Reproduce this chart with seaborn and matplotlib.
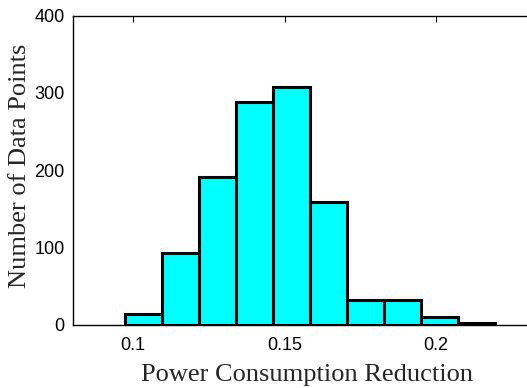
import matplotlib
matplotlib.use("Agg")
import matplotlib.pyplot as plt
import seaborn as sns
import numpy as np
import pandas as pd

# Data
bin_centers = [0.1035, 0.1157, 0.1279, 0.1401, 0.1523, 0.1645, 0.1767, 0.1889, 0.2011, 0.2133]
counts = [14, 92, 191, 288, 307, 158, 32, 32, 10, 2]
bin_width = 0.0122
x_ticks = [0.1, 0.15, 0.2]
x_tick_labels = ["0.1", "0.15", "0.2"]
y_ticks = [0, 100, 200, 300, 400]

sns.set_style("white")
plt.rcParams['font.family'] = ['Liberation Sans', 'DejaVu Sans']

df = pd.DataFrame({"x": bin_centers, "w": counts})
lo = bin_centers[0] - bin_width / 2
hi = bin_centers[-1] + bin_width / 2

fig = plt.figure(figsize=(5.27, 3.88), dpi=100)
ax = fig.add_axes([73 / 527, 1 - 324.5 / 388, 1 - 73 / 527, (324.5 - 15.5) / 388])

sns.histplot(data=df, x="x", weights="w", binwidth=bin_width, binrange=(lo, hi), ax=ax,
             color="#00ffff", alpha=1, edgecolor="black", linewidth=2.2)

ax.set_xlim(0.0802, 0.2300)
ax.set_ylim(0, 400)
ax.set_xticks(x_ticks)
ax.set_xticklabels(x_tick_labels)
ax.set_yticks(y_ticks)
ax.tick_params(axis="both", direction="in", length=4, width=0.8, labelsize=13,
               colors="black", top=True, right=False, pad=6)
ax.tick_params(axis="x", pad=9)
for s in ["left", "bottom", "top"]:
    ax.spines[s].set_color("black")
    ax.spines[s].set_linewidth(1.0)
ax.spines["right"].set_visible(False)

ax.set_xlabel("Power Consumption Reduction", family=["Liberation Serif"], fontsize=19)
ax.xaxis.label.set_va("baseline")
ax.xaxis.set_label_coords(0.515, -0.1828)
ax.set_ylabel("Number of Data Points", family=["Liberation Serif"], fontsize=19)
ax.yaxis.label.set_ha("center")
ax.yaxis.label.set_va("top")
ax.yaxis.set_label_coords(-0.140, 0.5146)

fig.savefig("out.png", dpi=100)
